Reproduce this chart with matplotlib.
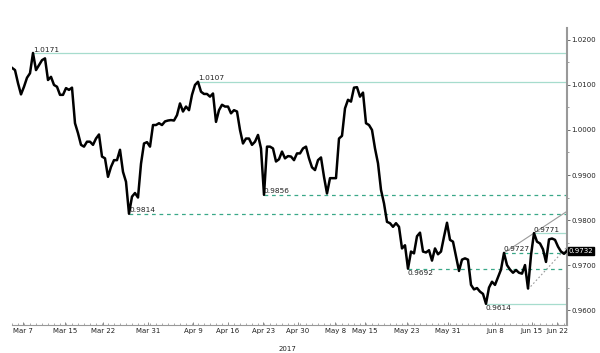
import matplotlib
matplotlib.use("Agg")
import matplotlib.pyplot as plt
from matplotlib.ticker import MultipleLocator, FormatStrFormatter

# price series, one value per step (Mar 7 -> Jun 22 2017)
prices = [
    1.0138, 1.0133, 1.0104, 1.0079, 1.0096, 1.0116, 1.0126, 1.0171, 1.0133, 1.0144,
    1.0155, 1.0159, 1.0111, 1.0118, 1.0100, 1.0096, 1.0078, 1.0078, 1.0093, 1.0089,
    1.0094, 1.0015, 0.9993, 0.9967, 0.9963, 0.9974, 0.9974, 0.9967, 0.9981, 0.9990,
    0.9941, 0.9937, 0.9896, 0.9918, 0.9933, 0.9933, 0.9956, 0.9907, 0.9885, 0.9814,
    0.9852, 0.9860, 0.9850, 0.9925, 0.9970, 0.9973, 0.9963, 1.0011, 1.0011, 1.0015,
    1.0011, 1.0019, 1.0021, 1.0022, 1.0021, 1.0033, 1.0059, 1.0041, 1.0052, 1.0044,
    1.0078, 1.0100, 1.0107, 1.0085, 1.0080, 1.0080, 1.0074, 1.0081, 1.0018, 1.0044,
    1.0056, 1.0052, 1.0052, 1.0037, 1.0044, 1.0041, 1.0000, 0.9970, 0.9981, 0.9981,
    0.9967, 0.9974, 0.9989, 0.9959, 0.9856, 0.9963, 0.9963, 0.9959, 0.9930, 0.9935,
    0.9952, 0.9937, 0.9942, 0.9941, 0.9933, 0.9948, 0.9948, 0.9959, 0.9963, 0.9937,
    0.9917, 0.9911, 0.9933, 0.9939, 0.9896, 0.9859, 0.9893, 0.9893, 0.9893, 0.9981,
    0.9987, 1.0048, 1.0067, 1.0063, 1.0094, 1.0095, 1.0074, 1.0083, 1.0015, 1.0011,
    1.0000, 0.9959, 0.9926, 0.9867, 0.9837, 0.9796, 0.9793, 0.9785, 0.9793, 0.9785,
    0.9737, 0.9744, 0.9692, 0.9730, 0.9726, 0.9764, 0.9772, 0.9730, 0.9728, 0.9733,
    0.9710, 0.9737, 0.9724, 0.9730, 0.9763, 0.9794, 0.9756, 0.9752, 0.9719, 0.9687,
    0.9712, 0.9715, 0.9712, 0.9656, 0.9646, 0.9649, 0.9641, 0.9636, 0.9614, 0.9650,
    0.9663, 0.9656, 0.9673, 0.9690, 0.9727, 0.9700, 0.9690, 0.9683, 0.9689, 0.9683,
    0.9681, 0.9700, 0.9648, 0.9722, 0.9771, 0.9752, 0.9748, 0.9735, 0.9707, 0.9757,
    0.9759, 0.9756, 0.9741, 0.9730, 0.9725, 0.9732,
]

date_labels = ["Mar 7", "Mar 15", "Mar 22", "Mar 31", "Apr 9", "Apr 16", "Apr 23",
               "Apr 30", "May 8", "May 15", "May 23", "May 31", "Jun 8", "Jun 15", "Jun 22"]
date_steps = [3.7, 17.7, 30.3, 45.3, 60.3, 72, 83.7, 95.3, 107.7, 117.7, 131.7,
              145.3, 161, 173.3, 181.7]

# marked levels
solid_levels = [1.0171, 1.0107, 0.9771, 0.9614]
dashed_levels = [0.9856, 0.9814, 0.9727, 0.9692]
below_labels = [0.9692, 0.9614]

# channel: resistance through the two June highs, support from the spike low
resist_pts = [0.9727, 0.9771]
support_low = 0.9648
support_vals = [0.9646, 0.9740]

x = list(range(len(prices)))
xmax = len(prices) - 1

fig = plt.figure(figsize=(6.0, 3.53), dpi=100)
ax = fig.add_axes([0.02, 0.079, 0.925, 0.842])

solid_col = "#a6dccd"
dash_col = "#3aa888"

for lv in solid_levels + dashed_levels:
    i0 = prices.index(lv)
    if lv in solid_levels:
        ax.plot([i0, xmax], [lv, lv], color=solid_col, lw=0.9, zorder=1)
    else:
        ax.plot([i0, xmax], [lv, lv], color=dash_col, lw=0.9, ls=(0, (3, 3)), zorder=1)
    if lv in below_labels:
        ax.text(i0, lv - 0.0003, f"{lv:.4f}", fontsize=5.3, ha="left", va="top", color="#222")
    else:
        ax.text(i0, lv + 0.0001, f"{lv:.4f}", fontsize=5.3, ha="left", va="bottom", color="#222")

# trend lines
r0 = prices.index(resist_pts[0])
r1 = prices.index(resist_pts[1])
slope = (resist_pts[1] - resist_pts[0]) / (r1 - r0)
ax.plot([r0, xmax], [resist_pts[0], resist_pts[0] + slope * (xmax - r0)],
        color="#9a9a9a", lw=0.8, zorder=1)
s0 = prices.index(support_low)
ax.plot([s0, xmax], support_vals, color="#9a9a9a", lw=0.8, ls=(0, (1.5, 2)), zorder=1)

ax.plot(x, prices, color="black", lw=1.8, zorder=3)

# last price box
ax.text(xmax + 0.6, prices[-1], f"{prices[-1]:.4f}", fontsize=5, color="white",
        ha="left", va="center", clip_on=False,
        bbox=dict(boxstyle="square,pad=0.15", fc="black", ec="black"))

ax.set_xlim(0, xmax)
ax.set_ylim(0.95667, 1.02267)

for s in ["top", "left"]:
    ax.spines[s].set_visible(False)
ax.spines["right"].set_color("#999999")
ax.spines["right"].set_linewidth(1.5)
ax.spines["bottom"].set_color("#999999")
ax.spines["bottom"].set_linewidth(0.8)

ax.yaxis.tick_right()
ax.yaxis.set_major_locator(MultipleLocator(0.01))
ax.yaxis.set_minor_locator(MultipleLocator(0.005))
ax.yaxis.set_major_formatter(FormatStrFormatter("%.4f"))
ax.tick_params(axis="y", which="major", length=2, width=0.6, color="#555",
               labelsize=5, pad=1, labelcolor="#222")
ax.tick_params(axis="y", which="minor", length=1.5, width=0.5, color="#777")

ax.set_xticks(date_steps)
ax.set_xticklabels(date_labels)
ax.xaxis.set_minor_locator(MultipleLocator(2))
ax.tick_params(axis="x", which="major", direction="in", length=2, width=0.6,
               color="#777", labelsize=5, pad=2, labelcolor="#222")
ax.tick_params(axis="x", which="minor", direction="in", length=1.5, width=0.5, color="#888")
ax.text(date_steps[7] - 3.5, -0.07, "2017", transform=ax.get_xaxis_transform(),
        fontsize=5, ha="center", va="top", color="#222")

fig.savefig("out.png", dpi=100)
